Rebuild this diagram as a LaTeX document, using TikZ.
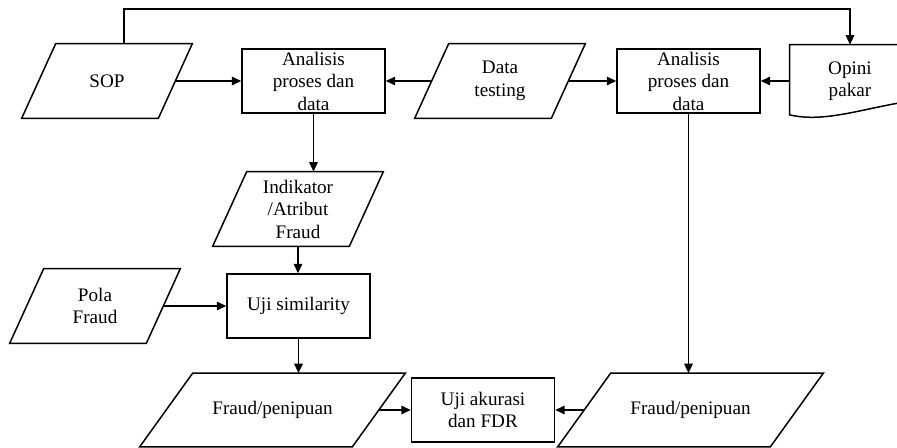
\documentclass[tikz,border=0pt]{standalone}
\usepackage{fontspec}
\setmainfont{Liberation Serif}
\usetikzlibrary{arrows.meta}
\tikzset{
 rim/.style={line width=.85pt},
 proc/.style={draw,rim,minimum width=2.86cm,minimum height=1.28cm,inner sep=0pt,align=center},
 io/.style={minimum width=2.72cm,minimum height=1.48cm,inner sep=0pt,align=center},
 iowide/.style={io,minimum width=4.24cm,minimum height=1.46cm},
 link/.style={rim,-{Triangle[length=1.9mm,width=1.7mm]}}
}

\begin{document}
\begin{tikzpicture}[x=.02cm,y=-.02cm,font=\fontsize{10.9}{12.8}\selectfont]
 \useasboundingbox (0,0) rectangle (897,447);
 \foreach \n/\x/\y/\t in {anaA/313.5/81/{Analisis\\proses dan\\data},anaB/688.5/81/{Analisis\\proses dan\\data},
  uji/298.5/306/{Uji similarity},akur/483/410/{Uji akurasi\\dan FDR}}
  \node[proc] (\n) at (\x,\y) {\t};
 \foreach \n/\x/\y/\t in {sop/107/81/SOP,test/500/81/{Data\\testing},ind/298/209/{Indikator\\/Atribut\\Fraud},
  pola/95/306/{Pola\\Fraud}}
  \node[io] (\n) at (\x,\y) {\t};
 \foreach \n/\x in {fraudA/272.5,fraudB/690.5}
  \node[iowide] (\n) at (\x,410) {Fraud/penipuan};
 \foreach \n/\s in {sop/.34,test/.34,ind/.34,pola/.34,fraudA/.53,fraudB/.53}
  \draw[rim] ([xshift=\s cm]\n.north west) -- ([xshift=\s cm]\n.north east)
   -- ([xshift=-\s cm]\n.south east) -- ([xshift=-\s cm]\n.south west) -- cycle;
 \node[minimum width=2.4cm,minimum height=1.44cm,align=center] (opini) at (850,81) {Opini\\pakar};
 \draw[rim] (opini.north east) -- (opini.north west) -- ([yshift=1.4pt]opini.south west)
  .. controls +(35,8) and +(-50,8) .. (opini.east |- 0,101);
 \draw[link] ([xshift=.34cm]sop.north) -- ([xshift=.34cm]sop.north |- 0,9) -| (opini.north);
 \draw[link] (sop) -- (anaA);
 \draw[link] (test) -- (anaA);
 \draw[link] (test) -- (anaB);
 \draw[link] (opini) -- (anaB);
 \draw[link] (anaA.south) -- (anaA.south |- ind.north);
 \draw[link] (ind.south) -- (ind.south |- uji.north);
 \draw[link] (pola) -- (uji);
 \draw[link] (uji.south) -- (uji.south |- fraudA.north);
 \draw[link] (fraudA) -- (akur);
 \draw[link] (fraudB) -- (akur);
 \draw[link] (anaB.south) -- (anaB.south |- fraudB.north);
\end{tikzpicture}
\end{document}
